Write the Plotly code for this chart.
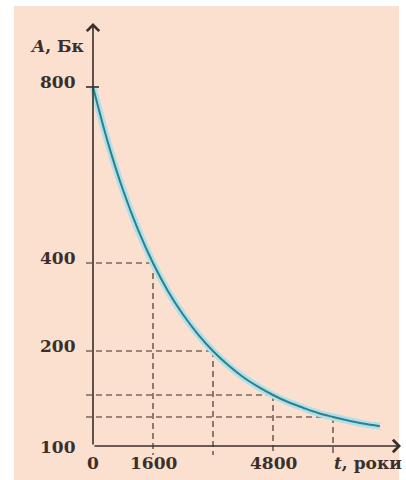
import plotly.graph_objects as go

# ---- data ----
t_years = [0, 400, 800, 1200, 1600, 2000, 2400, 2800, 3200, 3600, 4000,
           4400, 4800, 5200, 5600, 6000, 6400, 6800, 7200, 7650]
activity = [800, 673, 566, 476, 400, 336, 283, 238, 200, 168, 141,
            119, 100, 84, 71, 59, 50, 42, 35, 29]

guide_t = [1600, 3200, 4800, 6400]
guide_a = [400, 200, 100, 50]

x_tick_vals = [0, 1600, 4800]
x_tick_text = ["0", "1600", "4800"]
y_tick_vals = [800, 400, 200]
y_tick_text = ["800", "400", "200"]
y_base_text = "100"

x_title = "<i>t</i>, роки"
y_title = "<i>A</i>, Бк"

# ---- pixel mapping (layout) ----
W, H = 406, 480
X0_PX = 93          # pixel of t = 0
PX_PER_T = 60 / 1600
Y0_PX = 439         # pixel of A = 0
PX_PER_A = 176 / 400

def tx(px):
    return (px - X0_PX) / PX_PER_T

def ay(py):
    return (Y0_PX - py) / PX_PER_A

x_range = [tx(0), tx(W)]
y_range = [ay(H), ay(0)]

AXIS_A = ay(446)      # baseline of the time axis
AXIS_T = 0
TIP_X = tx(401)
TIP_Y = ay(23)

INK = "#3a2f2a"
DASH = "#7a685e"
FONT = dict(family="DejaVu Serif", size=17, color=INK, weight="bold")

fig = go.Figure()

# dashed guide lines
hx, hy, vx, vy = [], [], [], []
for t, a in zip(guide_t, guide_a):
    hx += [tx(86), t, None]
    hy += [a, a, None]
    vx += [t, t, None]
    vy += [a, ay(455), None]
fig.add_trace(go.Scatter(x=hx + vx, y=hy + vy, mode="lines",
                         line=dict(color=DASH, width=1.7, dash="6px,4px"),
                         hoverinfo="skip", showlegend=False))

# curve glow + curve
fig.add_trace(go.Scatter(x=t_years, y=activity, mode="lines",
                         line=dict(color="#aee0ea", width=7, shape="spline"),
                         hoverinfo="skip", showlegend=False))
fig.add_trace(go.Scatter(x=t_years, y=activity, mode="lines",
                         line=dict(color="#2f7f88", width=2, shape="spline"),
                         showlegend=False))

shapes = [
    dict(type="rect", xref="paper", yref="paper",
         x0=14 / W, x1=399 / W, y0=0, y1=1 - 6 / H,
         fillcolor="#fbdfcf", line=dict(width=0), layer="below"),
    dict(type="line", xref="x", yref="y", x0=tx(86), x1=tx(99),
         y0=800, y1=800, line=dict(color=INK, width=1.6)),
]

annotations = []
# axes with arrowheads
annotations.append(dict(x=TIP_X, y=AXIS_A, ax=AXIS_T, ay=AXIS_A,
                        xref="x", yref="y", axref="x", ayref="y",
                        text="", showarrow=True, arrowhead=4, arrowsize=1.5,
                        arrowwidth=1.6, arrowcolor=INK, standoff=0))
annotations.append(dict(x=AXIS_T, y=TIP_Y, ax=AXIS_T, ay=AXIS_A,
                        xref="x", yref="y", axref="x", ayref="y",
                        text="", showarrow=True, arrowhead=4, arrowsize=1.5,
                        arrowwidth=1.6, arrowcolor=INK, standoff=0))

for v, s in zip(x_tick_vals, x_tick_text):
    annotations.append(dict(x=v, y=ay(463), xref="x", yref="y", text=s,
                            showarrow=False, font=FONT,
                            xanchor="center", yanchor="middle"))
for v, s in zip(y_tick_vals, y_tick_text):
    annotations.append(dict(x=tx(78), y=v, xref="x", yref="y", text=s,
                            showarrow=False, font=FONT, yshift=5,
                            xanchor="right", yanchor="middle"))
annotations.append(dict(x=tx(78), y=AXIS_A, xref="x", yref="y", text=y_base_text,
                        showarrow=False, font=FONT, yshift=-1,
                        xanchor="right", yanchor="middle"))
annotations.append(dict(x=tx(87), y=ay(46), xref="x", yref="y", text=y_title,
                        showarrow=False, font=FONT,
                        xanchor="right", yanchor="middle"))
annotations.append(dict(x=tx(404), y=ay(463), xref="x", yref="y", text=x_title,
                        showarrow=False, font=FONT,
                        xanchor="right", yanchor="middle"))

fig.update_layout(
    width=W, height=H,
    margin=dict(l=0, r=0, t=0, b=0),
    paper_bgcolor="white", plot_bgcolor="rgba(0,0,0,0)",
    xaxis=dict(range=x_range, visible=False, fixedrange=True),
    yaxis=dict(range=y_range, visible=False, fixedrange=True),
    shapes=shapes, annotations=annotations,
    showlegend=False,
)

fig.write_html("out.html",
               config={"displayModeBar": False},
               post_script="document.body.style.margin='0';"
                           "document.body.style.overflow='hidden';")
